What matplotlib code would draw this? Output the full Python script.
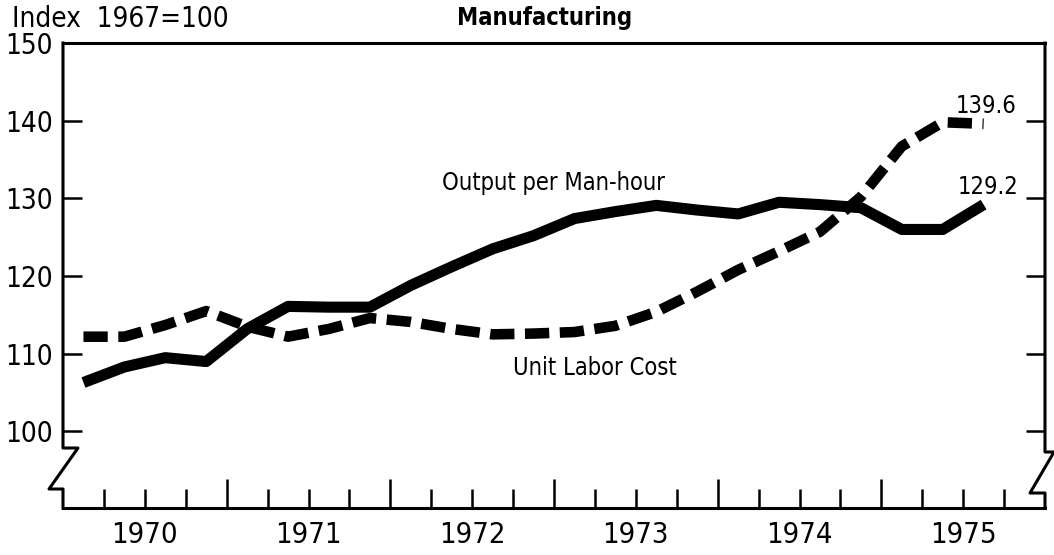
import matplotlib
matplotlib.use("Agg")
import matplotlib.pyplot as plt
import matplotlib.transforms as mtransforms
from matplotlib import font_manager
import numpy as np

# the original uses a narrow gothic face; take a condensed sans if there is one
plt.rcParams['font.family'] = ['DejaVu Sans']
plt.rcParams['font.stretch'] = 'condensed'
_path = font_manager.findfont(font_manager.FontProperties(family='DejaVu Sans', stretch='condensed'))
narrow = 'Condensed' in _path or 'Narrow' in _path
k = 1.0 if narrow else 0.85

# quarterly data, 1970 Q1 .. 1975 Q3
years = [1970] * 4 + [1971] * 4 + [1972] * 4 + [1973] * 4 + [1974] * 4 + [1975] * 3
quarters = [1, 2, 3, 4] * 5 + [1, 2, 3]
output_per_manhour = [106.3, 108.3, 109.5, 109.0, 113.2, 116.1, 116.0, 116.0,
                      118.8, 121.2, 123.5, 125.2, 127.4, 128.3, 129.1, 128.5,
                      128.0, 129.5, 129.2, 128.8, 126.0, 126.0, 129.2]
unit_labor_cost = [112.2, 112.2, 113.7, 115.5, 113.5, 112.2, 113.2, 114.6,
                   114.1, 113.2, 112.5, 112.6, 112.8, 113.6, 115.4, 118.0,
                   120.8, 123.2, 125.7, 130.2, 136.7, 139.8, 139.6]
year_labels = [1970, 1971, 1972, 1973, 1974, 1975]
y_ticks = [100, 110, 120, 130, 140, 150]

t = np.array(years) + (np.array(quarters) - 0.5) / 4.0

fig = plt.figure(figsize=(10.54, 5.55), dpi=100)
fig.set_facecolor('white')
W, H = 1054.0, 555.0
ax = fig.add_axes([63 / W, (H - 508) / H, (1045 - 63) / W, (508 - 43) / H])

ax.plot(t, output_per_manhour, color='black', lw=8, solid_capstyle='butt',
        solid_joinstyle='round', zorder=3)
ax.plot(t, unit_labor_cost, color='black', lw=7.6, dashes=(2.3, 1.0),
        dash_capstyle='butt', zorder=3)

ax.set_xlim(1970, 1976)
ax.set_ylim(90.15, 150)

# spines: top and bottom plain, sides drawn with a break
for s in ['left', 'right']:
    ax.spines[s].set_visible(False)
ax.spines['top'].set_linewidth(2.2)
ax.spines['bottom'].set_linewidth(2.2)

aw = 1045 - 63
ah = 508 - 43
left_x = [0, 0, 15 / aw, -14 / aw, 0, 0]
left_y = [1, 60 / ah, 60 / ah, 19 / ah, 19 / ah, 0]
right_x = [1, 1, 1 + 9 / aw, 1 - 15 / aw, 1, 1]
right_y = [1, 56 / ah, 56 / ah, 15 / ah, 15 / ah, 0]
ax.plot(left_x, left_y, color='black', lw=2.2, transform=ax.transAxes, clip_on=False)
ax.plot(right_x, right_y, color='black', lw=2.2, transform=ax.transAxes, clip_on=False)

# y ticks on both sides, pointing in
ax.set_yticks(y_ticks)
ax.set_yticklabels([str(v) for v in y_ticks])
ax.tick_params(axis='y', direction='in', left=True, right=True, length=14,
               width=1.8, labelsize=20 * k, pad=7.5)

# x ticks: quarters (minor) and years (major), labels at mid-year
ax.set_xticks([y for y in year_labels[1:]])
ax.set_xticklabels([])
ax.set_xticks([y + q / 4.0 for y in year_labels for q in (1, 2, 3)], minor=True)
ax.tick_params(axis='x', which='major', direction='in', length=21, width=1.8)
ax.tick_params(axis='x', which='minor', direction='in', length=14, width=1.8)

trans = mtransforms.blended_transform_factory(ax.transData, ax.transAxes)
for yr in year_labels:
    ax.text(yr + 0.5, -27 / ah, str(yr), transform=trans, ha='center',
            va='center', fontsize=21 * k)

fig.text(12 / W, 1 - 19 / H, 'Index  1967=100', ha='left', va='center', fontsize=20 * k)
fig.text(545 / W, 1 - 18 / H, 'Manufacturing', ha='center', va='center',
         fontsize=17 * k, fontweight='bold')

ax.text(1973.0, 132.0, 'Output per Man-hour', ha='center', va='center', fontsize=17 * k)
ax.text(1973.25, 108.2, 'Unit Labor Cost', ha='center', va='center', fontsize=17 * k)
ax.text(1975.64, 141.9, f'{unit_labor_cost[-1]:.1f}', ha='center', va='center', fontsize=17 * k)
ax.text(1975.65, 131.5, f'{output_per_manhour[-1]:.1f}', ha='center', va='center', fontsize=17 * k)

fig.savefig('out.png', dpi=100, facecolor='white')
